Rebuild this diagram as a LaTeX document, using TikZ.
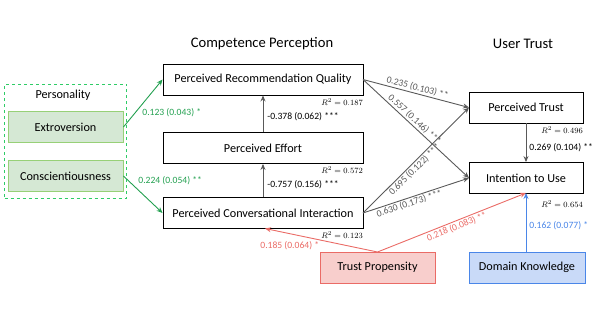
\documentclass[tikz,border=0pt]{standalone}
\usepackage{fontspec}
\setmainfont{Carlito}
\usetikzlibrary{arrows.meta}
\definecolor{edgegray}{HTML}{595959}
\definecolor{edgegreen}{HTML}{23A050}
\definecolor{dashgreen}{HTML}{2ECC66}
\definecolor{fillgreen}{HTML}{D5E8D4}
\definecolor{linegreen}{HTML}{97D077}
\definecolor{edgered}{HTML}{EA6B66}
\definecolor{fillred}{HTML}{F8CECC}
\definecolor{edgeblue}{HTML}{4A86E8}
\definecolor{fillblue}{HTML}{C9DAF8}
\tikzset{
  boxfont/.style={font=\fontsize{12.2}{14}\selectfont},
  box/.style={draw=black, line width=0.9pt, minimum height=31pt, inner sep=0pt, boxfont},
  gbox/.style={draw=linegreen, fill=fillgreen, line width=0.9pt, minimum width=115pt, minimum height=31pt, inner sep=0pt, boxfont},
  rbox/.style={draw=edgered, fill=fillred, line width=0.9pt, minimum width=115pt, minimum height=31pt, inner sep=0pt, boxfont},
  bbox/.style={draw=edgeblue, fill=fillblue, line width=0.9pt, minimum width=116pt, minimum height=31pt, inner sep=0pt, boxfont},
  arr/.style={-{Stealth[length=6pt,width=5pt]}, line width=0.9pt},
  lab/.style={font=\fontsize{9.6}{11}\selectfont, inner sep=1.2pt},
  rsq/.style={font=\fontsize{8.3}{10}\selectfont, inner sep=0pt, anchor=east},
  title/.style={font=\fontsize{14.6}{17}\selectfont}
}
\begin{document}
\begin{tikzpicture}[x=1pt, y=-1pt]
\useasboundingbox (0,0) rectangle (595,335);
% titles
\node[title] (t1) at (262,44) {Competence Perception};
\node[title] (t2) at (523,44) {User Trust};
% personality group
\node[draw=dashgreen, dashed, line width=0.9pt, minimum width=122pt, minimum height=114pt, inner sep=0pt] (pers) at (65.5,141) {};
\node[boxfont] (perslab) at (63,95) {Personality};
\node[gbox] (ext) at (65.5,127) {Extroversion};
\node[gbox] (con) at (65.5,176) {Conscientiousness};
% competence boxes
\node[box, minimum width=200pt] (prq) at (263,79.5) {Perceived Recommendation Quality};
\node[box, minimum width=200pt] (pe) at (263,148) {Perceived Effort};
\node[box, minimum width=200pt] (pci) at (263,213) {Perceived Conversational Interaction};
% trust boxes
\node[box, minimum width=114pt] (pt) at (526,107.5) {Perceived Trust};
\node[box, minimum width=114pt] (itu) at (526,178) {Intention to Use};
\node[rbox] (tp) at (377.5,267.5) {Trust Propensity};
\node[bbox] (dk) at (527,267.5) {Domain Knowledge};
% R^2
\node[rsq] (r1) at (363,102) {$R^2 = 0.187$};
\node[rsq] (r2) at (363,170) {$R^2 = 0.572$};
\node[rsq] (r3) at (363,235) {$R^2 = 0.123$};
\node[rsq] (r4) at (583,130) {$R^2 = 0.496$};
\node[rsq] (r5) at (583,204) {$R^2 = 0.654$};
% coordinates
\coordinate (prqR) at (363,79.5);
\coordinate (pciR) at (363,213);
\coordinate (ptL) at (469,107.5);
\coordinate (ituL) at (469,178);
\coordinate (ituB) at (526,193);
\coordinate (tpT) at (377.5,252);
\coordinate (pciB) at (265,228.5);
% green edges
\draw[arr, edgegreen] (ext.east) -- (prq.west);
\draw[arr, edgegreen] (con.east) -- (pci.west);
\node[lab, text=edgegreen, anchor=west] (l1) at (141,113) {0.123 (0.043) *};
\node[lab, text=edgegreen, anchor=west] (l2) at (137,181) {0.224 (0.054) **};
% vertical gray
\draw[arr, edgegray] (pci.north) -- (pe.south);
\draw[arr, edgegray] (pe.north) -- (prq.south);
\node[lab, anchor=west] (l3) at (266,185) {-0.757 (0.156) ***};
\node[lab, anchor=west] (l4) at (266,117) {-0.378 (0.062) ***};
% cross edges
\draw[arr, edgegray] (prqR) -- node[lab, sloped, above, pos=0.5] {0.235 (0.103) **} (ptL);
\draw[arr, edgegray] (prqR) -- node[lab, sloped, above, pos=0.45] {0.557 (0.146) ***} (ituL);
\draw[arr, edgegray] (pciR) -- node[lab, sloped, below, pos=0.45] {0.695 (0.122) ***} (ptL);
\draw[arr, edgegray] (pciR) -- node[lab, sloped, below, pos=0.42] {0.630 (0.173) ***} (ituL);
\draw[arr, edgegray] (pt.south) -- (itu.north);
\node[lab, anchor=west] (l5) at (528,148) {0.269 (0.104) **};
% red edges
\draw[arr, edgered] (tpT) -- (pciB);
\node[lab, text=edgered, anchor=west] (l6) at (259,246) {0.185 (0.064) *};
\draw[arr, edgered] (tpT) -- node[lab, text=edgered, sloped, below, pos=0.52] {0.218 (0.083) **} (ituB);
% blue edge
\draw[arr, edgeblue] (dk.north -| ituB) -- (ituB);
\node[lab, text=edgeblue, anchor=west] (l7) at (528,226) {0.162 (0.077) *};
\end{tikzpicture}
\end{document}
